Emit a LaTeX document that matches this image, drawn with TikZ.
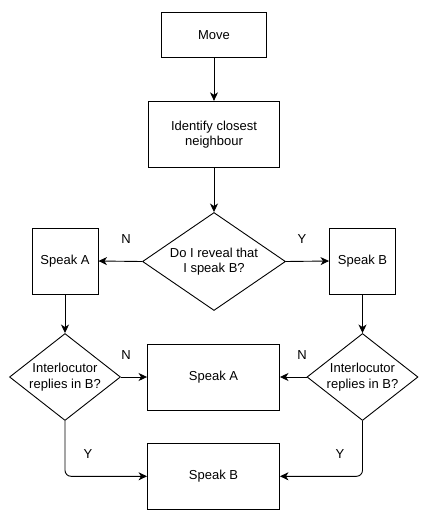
\documentclass[tikz,border=0pt]{standalone}
\usepackage{fontspec}
\setmainfont{Liberation Sans}
\usetikzlibrary{shapes.geometric,arrows.meta}
\begin{document}
\begin{tikzpicture}[x=1pt,y=-1pt,
  txt/.style={font=\fontsize{13}{15.3}\selectfont},
  box/.style={txt, draw, line width=0.9pt, inner sep=0pt, align=center},
  dec/.style={txt, draw, diamond, line width=0.9pt, inner sep=0pt, align=center},
  conn/.style={line width=0.9pt, -{Stealth[length=8.5pt,width=8pt,inset=2.5pt]}},
  lbl/.style={txt}]
\useasboundingbox (0,0) rectangle (428,524);
\node[box, minimum width=105pt, minimum height=45pt] (move) at (214,34.8) {Move};
\node[box, minimum width=131pt, minimum height=66pt] (ident) at (214,134.3) {Identify closest\\neighbour};
\node[dec, shape aspect=1.46, minimum width=143pt, minimum height=98pt] (d1) at (214,261.5) {Do I reveal that\\I speak B?};
\node[box, minimum width=66pt, minimum height=66pt] (sa1) at (65,261) {Speak A};
\node[box, minimum width=66pt, minimum height=66pt] (sb1) at (362.5,261) {Speak B};
\node[dec, shape aspect=1.27, minimum width=111pt, minimum height=87pt] (d2) at (65,377) {Interlocutor\\replies in B?};
\node[dec, shape aspect=1.27, minimum width=111pt, minimum height=87pt] (d3) at (362.5,377) {Interlocutor\\replies in B?};
\node[box, minimum width=132pt, minimum height=66pt] (sa2) at (213.5,377) {Speak A};
\node[box, minimum width=132pt, minimum height=66pt] (sb2) at (213.5,476.3) {Speak B};
\node[lbl] (n1) at (126,239) {N};
\node[lbl] (y1) at (302,239) {Y};
\node[lbl] (n2) at (126,355) {N};
\node[lbl] (n3) at (302,355) {N};
\node[lbl] (y2) at (88,454) {Y};
\node[lbl] (y3) at (340,454) {Y};
\draw[conn] (move) -- (ident);
\draw[conn] (ident) -- (d1);
\draw[conn] (d1.west) -- (sa1.east);
\draw[conn] (d1.east) -- (sb1.west);
\draw[conn] (sa1.south) -- (d2.north);
\draw[conn] (sb1.south) -- (d3.north);
\draw[conn] (d2.east) -- (sa2.west);
\draw[conn] (d3.west) -- (sa2.east);
\draw[conn, rounded corners=6pt] (d2.south) |- (sb2.west);
\draw[conn, rounded corners=6pt] (d3.south) |- (sb2.east);
\end{tikzpicture}
\end{document}
